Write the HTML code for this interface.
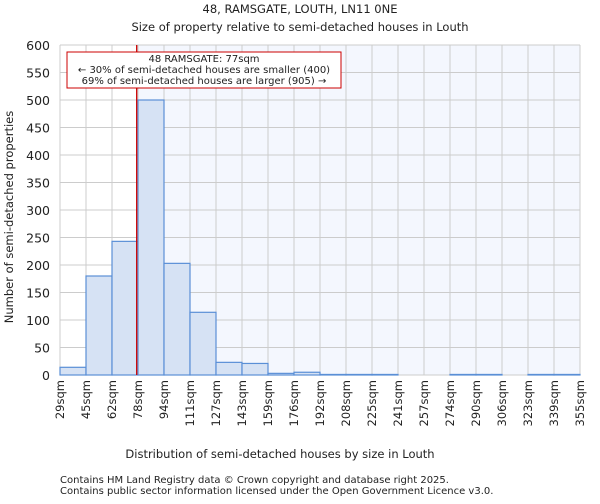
<!DOCTYPE html>
<html><head><meta charset="utf-8"><style>
body{margin:0;background:#fff;font-family:"DejaVu Sans","Liberation Sans",sans-serif}
svg text{font-family:"DejaVu Sans","Liberation Sans",sans-serif;fill:#222}
</style></head><body>
<svg id="c" width="600" height="500" xmlns="http://www.w3.org/2000/svg">
<text x="300" y="13" text-anchor="middle" font-size="11.5">48, RAMSGATE, LOUTH, LN11 0NE</text>
<text x="300" y="31" text-anchor="middle" font-size="11.5">Size of property relative to semi-detached houses in Louth</text>
<g id="plot"></g>
<text x="280" y="458" text-anchor="middle" font-size="11.5">Distribution of semi-detached houses by size in Louth</text>
<text transform="translate(13,217) rotate(-90)" text-anchor="middle" font-size="11.5">Number of semi-detached properties</text>
<text x="60" y="483" font-size="10">Contains HM Land Registry data © Crown copyright and database right 2025.</text>
<text x="60" y="494" font-size="10">Contains public sector information licensed under the Open Government Licence v3.0.</text>
</svg>
<script>
const binLabels=["29sqm","45sqm","62sqm","78sqm","94sqm","111sqm","127sqm","143sqm","159sqm","176sqm","192sqm","208sqm","225sqm","241sqm","257sqm","274sqm","290sqm","306sqm","323sqm","339sqm","355sqm"];
const counts=[14,180,243,500,203,114,23,21,3,5,1,1,1,0,0,1,1,0,1,1];
const yTicks=[0,50,100,150,200,250,300,350,400,450,500,550,600];
const markerBin=2.95;
const NS="http://www.w3.org/2000/svg";
const L=60,R=580,T=45,B=375,yMax=600;
const n=counts.length;
const xs=i=>L+(R-L)*i/n;
const ys=v=>B-(B-T)*v/yMax;
const g=document.getElementById('plot');
function el(t,a){const e=document.createElementNS(NS,t);for(const k in a)e.setAttribute(k,a[k]);g.appendChild(e);return e;}
let e;
e=el('rect',{x:L,y:T,width:R-L,height:B-T,fill:'#fff'});


const mx=xs(markerBin);
e=el('rect',{x:mx,y:T,width:R-mx,height:B-T,fill:'#f4f7fe'});


for(let i=0;i<=n;i++){
 e=el('line',{x1:xs(i),x2:xs(i),y1:T,y2:B,stroke:'#cccccc','stroke-width':1});
 
 
 e=el('text',{transform:`translate(${xs(i)+4},380) rotate(-90)`,'text-anchor':'end','font-size':11.5});
 e.textContent=binLabels[i];
 
 
}
yTicks.forEach(v=>{
 e=el('line',{x1:L,x2:R,y1:ys(v),y2:ys(v),stroke:'#cccccc','stroke-width':1});
 
 
 e=el('text',{x:50,y:ys(v)+5,'text-anchor':'end','font-size':12.5});
 e.textContent=v;
 
 
});
counts.forEach((c,i)=>{
 e=el('rect',{x:xs(i),y:ys(c),width:xs(i+1)-xs(i),height:B-ys(c),fill:'#d6e2f4',stroke:'#5a8fd6','stroke-width':1.2});
 
 
});
e=el('line',{x1:mx,x2:mx,y1:T,y2:B,stroke:'#cc0000','stroke-width':1.3});


e=el('rect',{x:67,y:52,width:274,height:36,fill:'#fff',stroke:'#cc0000','stroke-width':1});


[["48 RAMSGATE: 77sqm",62],["← 30% of semi-detached houses are smaller (400)",73],["69% of semi-detached houses are larger (905) →",84]].forEach(([t,y])=>{
 e=el('text',{x:204,y:y,'text-anchor':'middle','font-size':10});
 e.textContent=t;
 
 
});
</script>
</body></html>
